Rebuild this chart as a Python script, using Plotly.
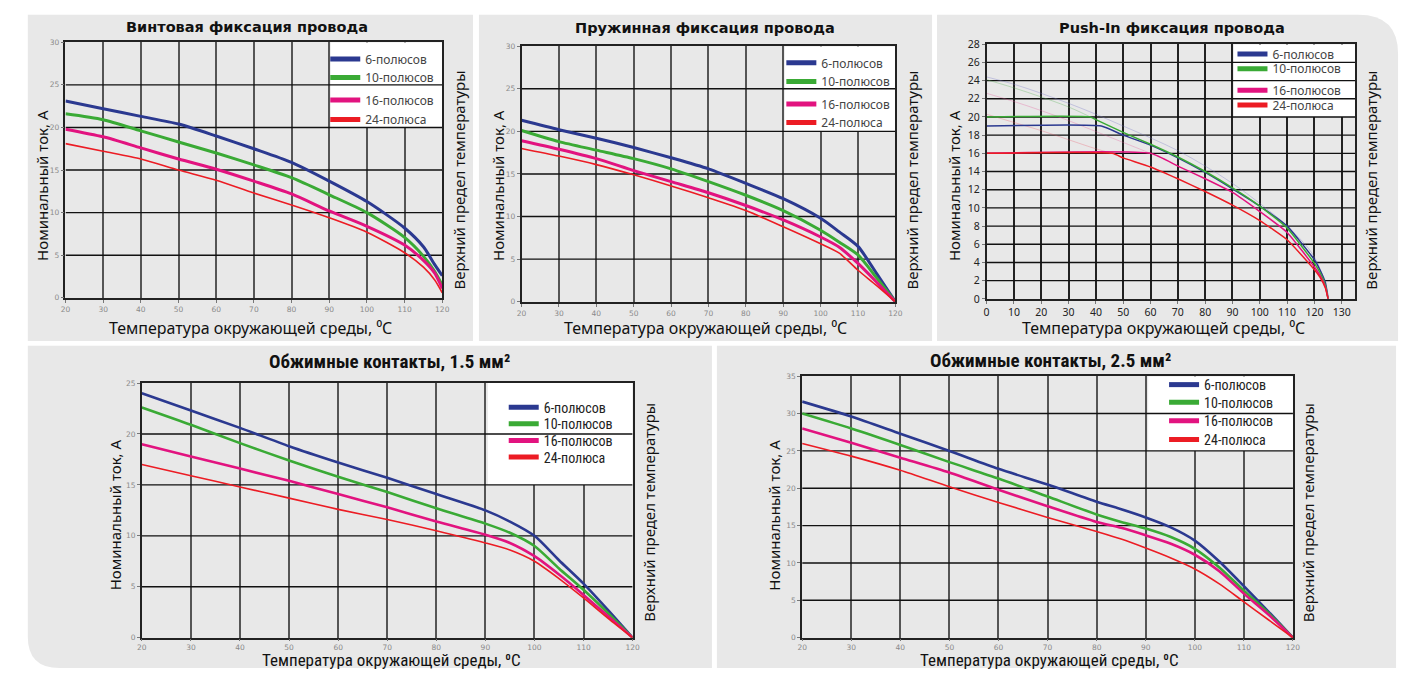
import plotly.graph_objects as go

W, H = 1412, 677

# ---------------- data ----------------
NAMES = ["6-полюсов", "10-полюсов", "16-полюсов", "24-полюса"]
COLORS = ["#2b3990", "#3aaa35", "#e2137f", "#ec1c24"]

# Винтовая фиксация провода
screw_T = [20, 30, 40, 50, 60, 70, 80, 90, 100, 110, 115, 118, 120]
screw_6 = [23.1, 22.2, 21.3, 20.4, 19.0, 17.5, 15.9, 13.7, 11.3, 8.2, 6.0, 3.9, 2.6]
screw_10 = [21.6, 20.9, 19.6, 18.3, 17.0, 15.6, 14.1, 12.1, 10.0, 7.1, 4.9, 3.1, 1.5]
screw_16 = [19.8, 18.9, 17.6, 16.3, 15.1, 13.7, 12.2, 10.2, 8.4, 6.2, 4.4, 2.9, 1.1]
screw_24 = [18.1, 17.2, 16.3, 15.0, 13.8, 12.3, 10.9, 9.4, 7.7, 5.3, 3.6, 2.1, 0.6]

# Пружинная фиксация провода
spring_T = [20, 30, 40, 50, 60, 70, 80, 90, 100, 105, 110, 115, 120]
spring_6 = [21.3, 20.2, 19.2, 18.1, 16.9, 15.6, 13.9, 12.1, 9.8, 8.2, 6.5, 3.3, 0]
spring_10 = [20.1, 18.8, 17.8, 16.8, 15.6, 14.1, 12.5, 10.7, 8.4, 7.0, 5.5, 2.8, 0]
spring_16 = [18.9, 17.9, 16.8, 15.4, 14.1, 12.8, 11.3, 9.6, 7.6, 6.4, 4.5, 2.3, 0]
spring_24 = [18.0, 17.1, 16.1, 14.9, 13.6, 12.2, 10.7, 8.8, 6.8, 5.7, 3.7, 1.9, 0]

# Push-In фиксация провода
push_T6 = [0, 42, 50, 60, 70, 80, 90, 100, 110, 120, 122, 124, 125]
push_6 = [19, 19, 18.0, 16.9, 15.5, 13.9, 12.1, 10.2, 8.0, 4.3, 3.2, 1.8, 0]
push_T10 = [0, 38, 40, 50, 60, 70, 80, 90, 100, 110, 120, 122, 124, 125]
push_10 = [20, 20, 19.7, 18.3, 17.0, 15.6, 14.0, 12.2, 10.2, 7.8, 3.9, 2.9, 1.5, 0]
push_T16 = [0, 60, 70, 80, 90, 100, 110, 120, 122, 124, 125]
push_16 = [16, 16, 14.6, 13.2, 11.7, 9.6, 7.3, 3.5, 2.6, 1.3, 0]
push_T24 = [0, 46, 50, 60, 70, 80, 90, 100, 110, 120, 122, 124, 125]
push_24 = [16, 16, 15.5, 14.5, 13.2, 11.8, 10.3, 8.6, 6.5, 3.2, 2.4, 1.2, 0]
# faint (unlimited) curves behind the Push-In lines
faint_Ta = [0, 10, 20, 30, 40, 50, 60, 70, 80, 90, 100, 110, 120, 125]
faint_a = [24.4, 23.6, 22.6, 21.5, 20.3, 19.0, 17.7, 16.3, 14.6, 12.7, 10.5, 8.0, 4.6, 0.5]
faint_Tb = [0, 10, 20, 30, 38]
faint_b = [24.1, 23.2, 22.2, 21.1, 20.0]
faint_Tc = [0, 10, 20, 30, 40, 50, 60]
faint_c = [22.6, 21.7, 20.7, 19.6, 18.4, 17.2, 16.0]
faint_Td = [0, 10, 20, 30, 40, 46]
faint_d = [20.3, 19.4, 18.5, 17.5, 16.5, 16.0]

# Обжимные контакты, 1.5 мм2
c15_T = [20, 30, 40, 50, 60, 70, 80, 90, 95, 100, 105, 110, 115, 120]
c15_6 = [24.0, 22.3, 20.6, 18.8, 17.2, 15.7, 14.1, 12.5, 11.4, 10.0, 7.6, 5.3, 2.7, 0]
c15_10 = [22.6, 20.9, 19.1, 17.4, 15.8, 14.3, 12.7, 11.2, 10.3, 9.0, 6.8, 4.7, 2.4, 0]
c15_16 = [19.0, 17.8, 16.6, 15.4, 14.1, 12.8, 11.4, 10.1, 9.3, 8.0, 6.2, 4.2, 2.1, 0]
c15_24 = [17.0, 15.9, 14.8, 13.7, 12.6, 11.6, 10.5, 9.3, 8.6, 7.5, 5.8, 3.9, 1.9, 0]

# Обжимные контакты, 2.5 мм2
c25_T = [20, 30, 40, 50, 60, 70, 80, 85, 90, 95, 100, 105, 110, 115, 120]
c25_6 = [31.6, 29.6, 27.3, 25.0, 22.6, 20.5, 18.2, 17.2, 16.1, 14.8, 13.0, 10.2, 6.9, 3.5, 0]
c25_10 = [30.0, 28.0, 25.8, 23.5, 21.3, 18.9, 16.5, 15.5, 14.6, 13.5, 11.9, 9.4, 6.3, 3.3, 0]
c25_16 = [28.0, 26.1, 24.1, 22.1, 19.8, 17.6, 15.5, 14.7, 13.7, 12.6, 11.1, 8.9, 5.9, 3.1, 0]
c25_24 = [26.0, 24.3, 22.4, 20.2, 18.1, 16.1, 14.2, 13.2, 12.0, 10.7, 9.2, 7.2, 4.8, 2.4, 0]

# ticks
x_ticks_20_120 = [20, 30, 40, 50, 60, 70, 80, 90, 100, 110, 120]
x_ticks_push = [0, 10, 20, 30, 40, 50, 60, 70, 80, 90, 100, 110, 120, 130]
y_ticks_30 = [0, 5, 10, 15, 20, 25, 30]
y_ticks_28 = [0, 2, 4, 6, 8, 10, 12, 14, 16, 18, 20, 22, 24, 26, 28]
y_ticks_25 = [0, 5, 10, 15, 20, 25]
y_ticks_35 = [0, 5, 10, 15, 20, 25, 30, 35]

TITLES = ["Винтовая фиксация провода", "Пружинная фиксация провода",
          "Push-In фиксация провода", "Обжимные контакты, 1.5 мм²",
          "Обжимные контакты, 2.5 мм²"]
Y_TITLE = "Номинальный ток, А"
X_TITLE = "Температура окружающей среды, ⁰C"
R_TITLE = "Верхний предел температуры"


# ---------------- styling helpers ----------------
def fx(p):
    return p / W


def fy(p):
    return 1 - p / H


SANS = "Noto Sans, Open Sans, sans-serif"
BOLD = "DejaVu Sans, Verdana, sans-serif"
NARROW = "Liberation Sans Narrow, Arial Narrow, Roboto Condensed, Roboto, sans-serif"
TICKF = dict(family="DejaVu Sans, sans-serif", size=7.5, color="#8a8a8a")
GREY = "#e8e8e8"

fig = go.Figure()
shapes = []
annotations = []


def rect_path(x0, y0, x1, y1, r_tr=0, r_bl=0):
    X0, X1 = fx(x0), fx(x1)
    Y0, Y1 = fy(y0), fy(y1)
    p = f"M{X0},{Y0} "
    if r_tr:
        p += f"L{fx(x1 - r_tr)},{Y0} Q{X1},{Y0} {X1},{fy(y0 + r_tr)} "
    else:
        p += f"L{X1},{Y0} "
    p += f"L{X1},{Y1} "
    if r_bl:
        p += f"L{fx(x0 + r_bl)},{Y1} Q{X0},{Y1} {X0},{fy(y1 - r_bl)} "
    else:
        p += f"L{X0},{Y1} "
    return p + "Z"


for (a, b, c, d, rt, rb) in [(23, 8, 472, 341, 0, 0), (478, 8, 935, 341, 0, 0),
                             (940, 8, 1405, 341, 40, 0), (23, 346, 713, 675, 0, 32),
                             (718, 346, 1403, 675, 0, 0)]:
    shapes.append(dict(type="path", xref="paper", yref="paper", path=rect_path(a, b, c, d, rt, rb),
                       fillcolor=GREY, line=dict(width=0), layer="below"))

TOPLEG = dict(family=SANS, size=12, color="#444")
BOTLEG = dict(family=NARROW, size=14, color="#222")

panels = [
    dict(box=(61, 441, 36, 297), xr=[20, 120], xt=x_ticks_20_120, yr=[0, 30], yt=y_ticks_30,
         series=[(screw_T, screw_6, 3), (screw_T, screw_10, 3), (screw_T, screw_16, 3), (screw_T, screw_24, 1.6)],
         smooth=0.7, legbox=(90.4, 20), legx=363, legy=[53, 72, 95, 115], legfont=TOPLEG, tlen=3,
         vgrid=("#555", 2), hgrid=("#111", 1.4), tickf=TICKF,
         title=(244, 20, dict(family=BOLD, size=14.5, color="#111")),
         ytitle=(38, 182), rtitle=(458, 177), xtitle=(248, 328, dict(family=SANS, size=16, color="#111"))),
    dict(box=(521, 898, 40, 301), xr=[20, 120], xt=x_ticks_20_120, yr=[0, 30], yt=y_ticks_30,
         series=[(spring_T, spring_6, 3), (spring_T, spring_10, 3), (spring_T, spring_16, 3), (spring_T, spring_24, 1.6)],
         smooth=0.7, legbox=(90.4, 20), legx=823, legy=[57, 76, 99, 118], legfont=TOPLEG, tlen=3,
         vgrid=("#555", 2), hgrid=("#111", 1.4), tickf=TICKF,
         title=(706, 21, dict(family=BOLD, size=14.5, color="#111")),
         ytitle=(497, 182), rtitle=(915, 177), xtitle=(707, 328, dict(family=SANS, size=16, color="#111"))),
    dict(box=(990, 1362, 38, 298), xr=[0, 135], xt=x_ticks_push, yr=[0, 28], yt=y_ticks_28,
         series=[(push_T6, push_6, 1.5), (push_T10, push_10, 1.5), (push_T16, push_16, 1.5), (push_T24, push_24, 1.5)],
         smooth=0.45, legbox=(90.5, 20), legx=1278, legy=[48, 63, 85, 100], legfont=TOPLEG, tlen=3,
         vgrid=("#222", 1.6), hgrid=("#111", 1.4), tickf=dict(family=SANS, size=10.5, color="#222"),
         title=(1177, 21, dict(family=BOLD, size=14.5, color="#111")),
         ytitle=(957, 182), rtitle=(1378, 177), xtitle=(1168, 328, dict(family=SANS, size=16, color="#111"))),
    dict(box=(138, 633, 384, 644), xr=[20, 120], xt=x_ticks_20_120, yr=[0, 25], yt=y_ticks_25,
         series=[(c15_T, c15_6, 2.6), (c15_T, c15_10, 2.6), (c15_T, c15_16, 2.6), (c15_T, c15_24, 1.6)],
         smooth=0.7, legbox=(90.5, 15), legx=543, legy=[409, 426, 443, 460], legfont=BOTLEG, tlen=2,
         vgrid=("#555", 2), hgrid=("#111", 1.4), tickf=TICKF,
         title=(388, 362, dict(family=NARROW, size=19, color="#111")),
         ytitle=(111, 519), rtitle=(650, 516), xtitle=(390, 667, dict(family=NARROW, size=17, color="#111"))),
    dict(box=(804, 1299, 377, 644), xr=[20, 120], xt=x_ticks_20_120, yr=[0, 35], yt=y_ticks_35,
         series=[(c25_T, c25_6, 2.6), (c25_T, c25_10, 2.6), (c25_T, c25_16, 2.6), (c25_T, c25_24, 1.6)],
         smooth=0.7, legbox=(90.5, 25), legx=1209, legy=[386, 404, 423, 442], legfont=BOTLEG, tlen=2,
         vgrid=("#555", 2), hgrid=("#111", 1.4), tickf=TICKF,
         title=(1054, 361, dict(family=NARROW, size=19, color="#111")),
         ytitle=(776, 519), rtitle=(1315, 516), xtitle=(1053, 667, dict(family=NARROW, size=17, color="#111"))),
]

faint = [(faint_Ta, faint_a, "rgba(120,120,200,0.35)"), (faint_Tb, faint_b, "rgba(90,180,90,0.35)"),
         (faint_Tc, faint_c, "rgba(230,80,150,0.3)"), (faint_Td, faint_d, "rgba(236,80,100,0.3)")]

layout_extra = {}
for i, p in enumerate(panels):
    n = i + 1
    sfx = "" if n == 1 else str(n)
    xref, yref = "x" + sfx, "y" + sfx
    x0, x1, y0, y1 = p["box"]
    layout_extra["xaxis" + sfx] = dict(
        domain=[fx(x0), fx(x1)], anchor=yref, range=p["xr"], tickvals=p["xt"],
        showgrid=True, gridcolor=p["vgrid"][0], gridwidth=p["vgrid"][1], zeroline=False,
        showline=True, mirror=True, linecolor="#222", linewidth=1.6,
        ticks="outside", ticklen=p["tlen"], tickcolor="#777", tickfont=p["tickf"], fixedrange=True)
    layout_extra["yaxis" + sfx] = dict(
        domain=[fy(y1), fy(y0)], anchor=xref, range=p["yr"], tickvals=p["yt"],
        showgrid=False, zeroline=False, showline=True, mirror=True, linecolor="#222", linewidth=1.6,
        ticks="outside", ticklen=3, tickcolor="#777", tickfont=p["tickf"], fixedrange=True)
    # white legend area covering the vertical grid, then horizontal grid on top
    lx, ly = p["legbox"]
    shapes.append(dict(type="rect", xref=xref, yref=yref, x0=lx, x1=p["xr"][1], y0=ly, y1=p["yr"][1],
                       fillcolor="white", line=dict(width=0), layer="between"))
    for v in p["yt"][1:-1]:
        shapes.append(dict(type="line", xref=xref, yref=yref, x0=p["xr"][0], x1=p["xr"][1], y0=v, y1=v,
                           line=dict(color=p["hgrid"][0], width=p["hgrid"][1]), layer="between"))
    if n == 3:
        for T, I, col in faint:
            fig.add_trace(go.Scatter(x=T, y=I, mode="lines", line=dict(color=col, width=1, shape="spline"),
                                     xaxis=xref, yaxis=yref, showlegend=False, hoverinfo="skip"))
    for k, (T, I, w) in enumerate(p["series"]):
        fig.add_trace(go.Scatter(x=T, y=I, mode="lines",
                                 line=dict(color=COLORS[k], width=w, shape="spline", smoothing=p["smooth"]),
                                 xaxis=xref, yaxis=yref, showlegend=False, hoverinfo="skip"))
    for k in range(4):
        lg_idx = i * 4 + k + 1
        lg = "legend" if lg_idx == 1 else f"legend{lg_idx}"
        fig.add_trace(go.Scatter(x=[None], y=[None], mode="lines", name=NAMES[k],
                                 line=dict(color=COLORS[k], width=5), xaxis=xref, yaxis=yref,
                                 legend=lg, showlegend=True, hoverinfo="skip"))
        layout_extra[lg] = dict(x=fx(p["legx"] - 40), y=fy(p["legy"][k]), xanchor="left", yanchor="middle",
                                bgcolor="rgba(0,0,0,0)", font=p["legfont"], itemwidth=30, borderwidth=0)
    tx, ty, tf = p["title"]
    annotations.append(dict(text=f"<b>{TITLES[i]}</b>", x=fx(tx), y=fy(ty), xref="paper", yref="paper",
                            showarrow=False, xanchor="center", yanchor="middle", font=tf))
    annotations.append(dict(text=Y_TITLE, x=fx(p["ytitle"][0]), y=fy(p["ytitle"][1]), xref="paper", yref="paper",
                            showarrow=False, textangle=-90, xanchor="center", yanchor="middle",
                            font=dict(family=SANS, size=15, color="#111")))
    annotations.append(dict(text=R_TITLE, x=fx(p["rtitle"][0]), y=fy(p["rtitle"][1]), xref="paper", yref="paper",
                            showarrow=False, textangle=-90, xanchor="center", yanchor="middle",
                            font=dict(family=SANS, size=15, color="#111")))
    xt = p["xtitle"]
    annotations.append(dict(text=X_TITLE, x=fx(xt[0]), y=fy(xt[1]), xref="paper", yref="paper",
                            showarrow=False, xanchor="center", yanchor="middle", font=xt[2]))

fig.update_layout(width=W, height=H, margin=dict(l=0, r=0, t=0, b=0),
                  paper_bgcolor="white", plot_bgcolor="white", shapes=shapes, annotations=annotations,
                  **layout_extra)

# remove the default page margin so the figure fills the window exactly
fig.write_html("out.html", config={"displayModeBar": False},
               post_script="document.body.style.margin='0';document.body.style.overflow='hidden';")
